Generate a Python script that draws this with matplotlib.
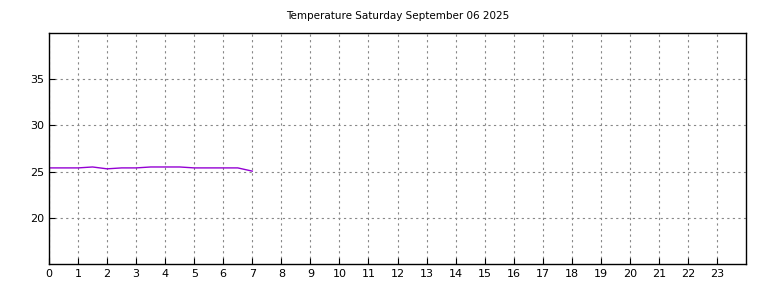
import matplotlib
matplotlib.use("Agg")
import matplotlib.pyplot as plt

title = "Temperature Saturday September 06 2025"
hours = [0, 0.5, 1, 1.5, 2, 2.5, 3, 3.5, 4, 4.5, 5, 5.5, 6, 6.5, 7]
temps = [25.4, 25.4, 25.4, 25.5, 25.3, 25.4, 25.4, 25.5, 25.5, 25.5, 25.4, 25.4, 25.4, 25.4, 25.05]
xticks = list(range(0, 24))
yticks = [20, 25, 30, 35]

fig = plt.figure(figsize=(7.68, 2.88), dpi=100)
ax = fig.add_axes([49/768, 24/288, (746-49)/768, (264-33)/288])
ax.plot(hours, temps, color="#9400d3", linewidth=1.0)
ax.set_xlim(0, 24)
ax.set_ylim(15, 40)
ax.set_xticks(xticks)
ax.set_yticks(yticks)
ax.tick_params(direction="in", labelsize=8, length=4, width=0.8)
ax.grid(True, color="#888888", linestyle=(0, (2, 3)), linewidth=0.8)
for s in ax.spines.values():
    s.set_linewidth(1.0)
fig.text((49+746)/2/768, 1 - 16/288, title, ha="center", va="center", fontsize=7.5)
fig.savefig("out.png", dpi=100)
